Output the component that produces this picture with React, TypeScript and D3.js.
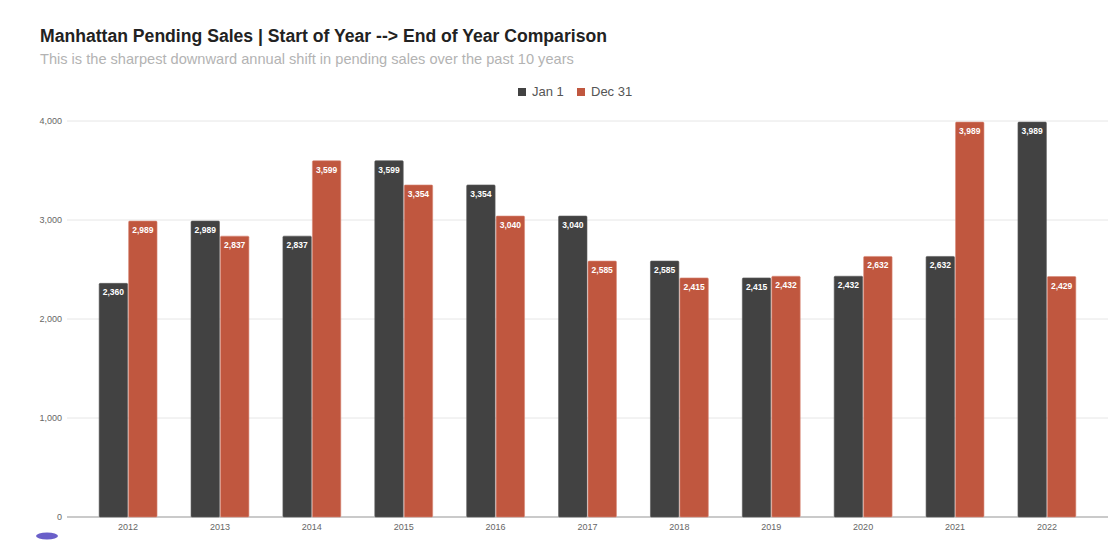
import * as d3 from "d3";
import { useEffect, useRef } from "react";

const years = ["2012", "2013", "2014", "2015", "2016", "2017", "2018", "2019", "2020", "2021", "2022"];
const jan1 = [2360, 2989, 2837, 3599, 3354, 3040, 2585, 2415, 2432, 2632, 3989];
const dec31 = [2989, 2837, 3599, 3354, 3040, 2585, 2415, 2432, 2632, 3989, 2429];
const seriesNames = ["Jan 1", "Dec 31"];
const yTicks = [0, 1000, 2000, 3000, 4000];

const colors = ["#424242", "#c0573f"];

export default function App() {
  const svgRef = useRef<SVGSVGElement | null>(null);

  useEffect(() => {
    const width = 1116;
    const height = 544;
    const svg = d3.select(svgRef.current);
    svg.selectAll("*").remove();
    svg.attr("width", width).attr("height", height);

    const font = "'Liberation Sans', Arial, sans-serif";

    svg.append("rect").attr("width", width).attr("height", height).attr("fill", "#fff");

    svg.append("text")
      .attr("x", 40).attr("y", 42)
      .attr("font-family", font).attr("font-size", 17.6).attr("font-weight", "bold")
      .attr("fill", "#222")
      .text("Manhattan Pending Sales | Start of Year --> End of Year Comparison");

    svg.append("text")
      .attr("x", 40).attr("y", 64)
      .attr("font-family", font).attr("font-size", 14.6)
      .attr("fill", "#b3b3b3")
      .text("This is the sharpest downward annual shift in pending sales over the past 10 years");

    // legend
    const legendX = [518, 577];
    seriesNames.forEach((name, i) => {
      svg.append("rect")
        .attr("x", legendX[i]).attr("y", 88).attr("width", 8).attr("height", 8)
        .attr("fill", colors[i]);
      svg.append("text")
        .attr("x", legendX[i] + 14).attr("y", 96)
        .attr("font-family", font).attr("font-size", 13)
        .attr("fill", "#555")
        .text(name);
    });

    const y = d3.scaleLinear().domain([0, 4000]).range([517, 121]);
    const x = d3.scaleBand<string>().domain(years).range([67, 1108]).paddingInner(0.37).paddingOuter(0.35);
    const xs = d3.scaleBand<string>().domain(seriesNames).range([0, x.bandwidth()]).paddingInner(0.035);

    // grid
    const g = svg.append("g");
    yTicks.forEach((t) => {
      g.append("line")
        .attr("x1", 67).attr("x2", 1108)
        .attr("y1", y(t)).attr("y2", y(t))
        .attr("stroke", t === 0 ? "#b8b8b8" : "#e6e6e6")
        .attr("stroke-width", t === 0 ? 1.5 : 1);
      g.append("text")
        .attr("x", 62).attr("y", y(t) + 3)
        .attr("text-anchor", "end")
        .attr("font-family", font).attr("font-size", 9)
        .attr("fill", "#666")
        .text(d3.format(",")(t));
    });

    const series = [jan1, dec31];
    years.forEach((yr, i) => {
      series.forEach((vals, s) => {
        const bx = (x(yr) ?? 0) + (xs(seriesNames[s]) ?? 0);
        const bw = xs.bandwidth();
        const v = vals[i];
        g.append("rect")
          .attr("x", bx).attr("y", y(v))
          .attr("width", bw).attr("height", y(0) - y(v))
          .attr("rx", 1)
          .attr("fill", colors[s])
          .attr("stroke", s === 0 ? "#5a5a5a" : "#d98a78")
          .attr("stroke-width", 0.6);
        g.append("text")
          .attr("x", bx + bw / 2).attr("y", y(v) + 12)
          .attr("text-anchor", "middle")
          .attr("font-family", font).attr("font-size", 8.5).attr("font-weight", "bold")
          .attr("fill", "#fff")
          .text(d3.format(",")(v));
      });
      g.append("text")
        .attr("x", (x(yr) ?? 0) + x.bandwidth() / 2).attr("y", 530)
        .attr("text-anchor", "middle")
        .attr("font-family", font).attr("font-size", 9)
        .attr("fill", "#666")
        .text(yr);
    });

    // partial avatar shape at bottom-left
    svg.append("ellipse")
      .attr("cx", 47).attr("cy", 536).attr("rx", 11).attr("ry", 3.5)
      .attr("fill", "#6a5fc9");
  }, []);

  return <svg ref={svgRef} style={{ display: "block", position: "absolute", left: 0, top: 0 }}></svg>;
}
